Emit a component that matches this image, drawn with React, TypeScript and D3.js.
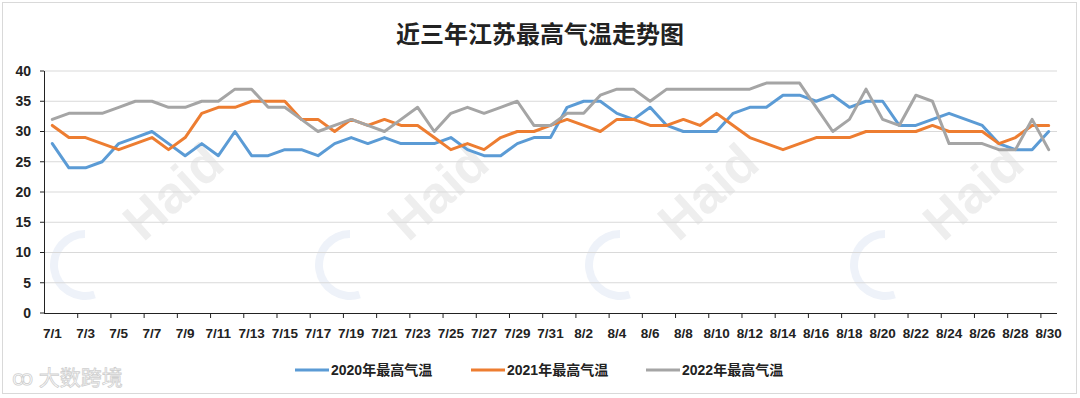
import React from 'react';
import * as d3 from 'd3';

// categories: 7/1 .. 7/31, 8/1 .. 8/30
const dates: string[] = [
  ...d3.range(1, 32).map(d => `7/${d}`),
  ...d3.range(1, 31).map(d => `8/${d}`),
];

const temp2020 = [28, 24, 24, 25, 28, 29, 30, 28, 26, 28, 26, 30, 26, 26, 27, 27, 26, 28, 29, 28, 29, 28, 28, 28, 29, 27, 26, 26, 28, 29, 29,
  34, 35, 35, 33, 32, 34, 31, 30, 30, 30, 33, 34, 34, 36, 36, 35, 36, 34, 35, 35, 31, 31, 32, 33, 32, 31, 28, 27, 27, 30];
const temp2021 = [31, 29, 29, 28, 27, 28, 29, 27, 29, 33, 34, 34, 35, 35, 35, 32, 32, 30, 32, 31, 32, 31, 31, 29, 27, 28, 27, 29, 30, 30, 31,
  32, 31, 30, 32, 32, 31, 31, 32, 31, 33, 31, 29, 28, 27, 28, 29, 29, 29, 30, 30, 30, 30, 31, 30, 30, 30, 28, 29, 31, 31];
const temp2022 = [32, 33, 33, 33, 34, 35, 35, 34, 34, 35, 35, 37, 37, 34, 34, 32, 30, 31, 32, 31, 30, 32, 34, 30, 33, 34, 33, 34, 35, 31, 31,
  33, 33, 36, 37, 37, 35, 37, 37, 37, 37, 37, 37, 38, 38, 38, 34, 30, 32, 37, 32, 31, 36, 35, 28, 28, 28, 27, 27, 32, 27];

const seriesNames = ['2020年最高气温', '2021年最高气温', '2022年最高气温'];
const seriesColors = ['#5B9BD5', '#ED7D31', '#A5A5A5'];
const yTicks = [0, 5, 10, 15, 20, 25, 30, 35, 40];

const title = '近三年江苏最高气温走势图';
const W = 1080, H = 398;
const fontLat = '"Liberation Sans", Arial, sans-serif';
const fontCjk = '"Liberation Sans", "Noto Sans CJK SC", sans-serif';

export default function App() {
  const x = d3.scaleBand<string>().domain(dates).range([44, 1057]).padding(0);
  const y = d3.scaleLinear().domain([0, 40]).range([313, 71]);
  const cx = (d: string) => (x(d) as number) + x.bandwidth() / 2;

  const line = d3.line<number>()
    .x((_, i) => cx(dates[i]))
    .y(v => y(v));

  const all = [temp2020, temp2021, temp2022];

  // legend item positions
  const legendX = [295, 471, 646];

  return (
    <svg width={W} height={H} style={{ position: 'absolute', left: 0, top: 0 }}>
      <rect x={0} y={0} width={W} height={H} fill="#fff" />
      <rect x={2.5} y={2.5} width={1074} height={391} fill="none" stroke="#d9d9d9" />

      {/* faint watermarks */}
      {[185, 450, 720, 985].map((wx, i) => (
        <g key={i}>
          <path d={d3.arc()({ innerRadius: 27, outerRadius: 35, startAngle: Math.PI * 0.9, endAngle: Math.PI * 2.0 }) as string}
            transform={`translate(${wx - 100},${265})`} fill="#eef2f9" />
          <text x={wx} y={205} transform={`rotate(-42 ${wx} 205)`} textAnchor="middle"
            fontFamily={fontLat} fontWeight="bold" fontSize={52} fill="#eeeeee">Haid</text>
        </g>
      ))}

      <text x={540} y={43} textAnchor="middle" fontFamily={fontCjk} fontWeight="bold" fontSize={24} fill="#222">{title}</text>

      {/* gridlines */}
      {yTicks.filter(t => t > 0).map(t => (
        <line key={t} x1={44} x2={1057} y1={y(t)} y2={y(t)} stroke="#d9d9d9" strokeWidth={1} />
      ))}

      {/* y axis */}
      <line x1={44.5} x2={44.5} y1={y(40)} y2={y(0)} stroke="#222" strokeWidth={1} />
      {yTicks.map(t => (
        <g key={t}>
          <line x1={40} x2={44} y1={y(t)} y2={y(t)} stroke="#222" />
          <text x={31} y={y(t)} dy="0.35em" textAnchor="end" fontFamily={fontLat} fontWeight="bold" fontSize={14} fill="#222">{t}</text>
        </g>
      ))}

      {/* x axis */}
      <line x1={44} x2={1057} y1={y(0) + 0.5} y2={y(0) + 0.5} stroke="#222" strokeWidth={1} />
      {dates.map((d, i) => (i % 2 === 0 && i > 0 ? (
        <line key={'t' + d} x1={(x(d) as number) + 0.5} x2={(x(d) as number) + 0.5} y1={y(0)} y2={y(0) + 5} stroke="#222" />
      ) : null))}
      {dates.map((d, i) => (i % 2 === 0 ? (
        <text key={d} x={cx(d)} y={338} textAnchor="middle" fontFamily={fontLat} fontWeight="bold" fontSize={13.5} fill="#222">{d}</text>
      ) : null))}

      {/* series */}
      {all.map((s, k) => (
        <path key={k} d={line(s) as string} fill="none" stroke={seriesColors[k]} strokeWidth={3} strokeLinejoin="round" strokeLinecap="round" />
      ))}

      {/* legend */}
      {seriesNames.map((n, k) => (
        <g key={n}>
          <line x1={legendX[k]} x2={legendX[k] + 34} y1={370} y2={370} stroke={seriesColors[k]} strokeWidth={3} />
          <text x={legendX[k] + 36} y={370} dy="0.35em" fontFamily={fontCjk} fontWeight="bold" fontSize={14} fill="#222">{n}</text>
        </g>
      ))}

      {/* source watermark */}
      <text x={12} y={385} fontFamily={fontCjk} fontSize={21} fill="#fff" stroke="#cfcfcf" strokeWidth={0.8}>ꝏ 大数跨境</text>
    </svg>
  );
}
